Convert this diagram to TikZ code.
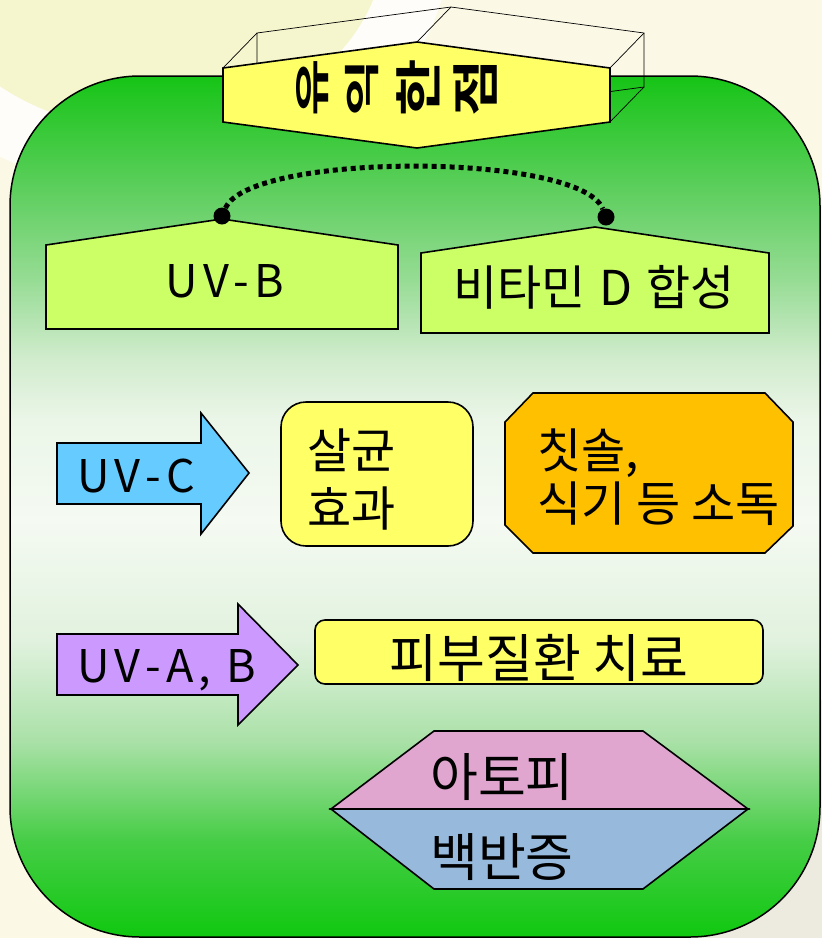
\documentclass[tikz,border=0pt]{standalone}
\usepackage{fontspec}
\setmainfont{Noto Sans CJK KR}
\newfontfamily\uvfont[LetterSpace=12]{Noto Sans CJK KR}
\newfontfamily\titlefont{Noto Sans CJK KR Bold}
\definecolor{bgcream}{RGB}{251,249,230}
\definecolor{bgyellow}{RGB}{245,245,206}
\definecolor{bggray}{RGB}{237,235,224}
\definecolor{gs0}{RGB}{16,200,16}
\definecolor{gs1}{RGB}{70,205,70}
\definecolor{gs2}{RGB}{170,225,168}
\definecolor{gs3}{RGB}{225,242,222}
\definecolor{gs4}{RGB}{245,250,242}
\definecolor{gs5}{RGB}{235,246,232}
\definecolor{gs6}{RGB}{210,236,206}
\definecolor{gs7}{RGB}{150,220,148}
\definecolor{gs8}{RGB}{100,208,100}
\definecolor{gs9}{RGB}{22,196,22}
\definecolor{hexyellow}{RGB}{255,255,102}
\definecolor{limegreen}{RGB}{204,255,102}
\definecolor{skyblue}{RGB}{102,204,255}
\definecolor{goldorange}{RGB}{255,192,0}
\definecolor{lilac}{RGB}{204,153,255}
\definecolor{mauve}{RGB}{225,166,208}
\definecolor{paleblue}{RGB}{150,185,220}
\pgfdeclareverticalshading{greenbox}{100bp}{color(0bp)=(gs0); color(25bp)=(gs0); color(30.6bp)=(gs1); color(36.4bp)=(gs2); color(42.2bp)=(gs3); color(49.2bp)=(gs4); color(55bp)=(gs5); color(58.5bp)=(gs6); color(63.2bp)=(gs7); color(67.8bp)=(gs8); color(75bp)=(gs9); color(100bp)=(gs9)}
\begin{document}
\begin{tikzpicture}[x=1pt,y=-1pt,line join=miter,
  shapeline/.style={draw=black,line width=1.6pt},
  wire/.style={draw=black,line width=0.7pt},
  txt/.style={inner sep=0pt,text=black},
  kr/.style={txt,font=\fontsize{48}{56}\selectfont},
  krbig/.style={txt,font=\fontsize{52}{60}\selectfont},
  uv/.style={txt,font=\uvfont\fontsize{45}{54}\selectfont},
  glyph/.style={inner sep=0pt,rotate=90,font=\titlefont\fontsize{50}{50}\selectfont},
  dotnode/.style={circle,fill=black,inner sep=0pt,minimum size=17pt}]
\useasboundingbox (0,0) rectangle (822,938);
% background
\begin{scope}
\clip (0,0) rectangle (822,938);
\fill[bgcream] (0,0) rectangle (822,938);
\fill[white,opacity=0.8] (150,-60) ellipse [x radius=300, y radius=250];
\fill[bgyellow] (150,-60) ellipse [x radius=235, y radius=190];
\fill[bggray] (650,700) rectangle (822,938);
\end{scope}
% big green rounded box
\shadedraw[shading=greenbox,draw=black,line width=1.5pt,rounded corners=130pt] (10,76) rectangle (820,937);
% 3D wireframe of the title hexagon
\draw[wire] (257,33) -- (451,7) -- (644,33) -- (644,87) -- (451,113) -- (257,87) -- cycle;
\draw[wire] (223,68) -- (257,33);
\draw[wire] (417,42) -- (451,7);
\draw[wire] (610,68) -- (644,33);
\draw[wire] (610,122) -- (644,87);
\draw[wire] (223,122) -- (257,87);
% title hexagon
\draw[shapeline,fill=hexyellow] (223,68) -- (417,42) -- (610,68) -- (610,122) -- (417,148) -- (223,122) -- cycle;
\node[glyph] (g1) at (312.5,87.5) {\scalebox{1.25}[0.72]{유}};
\node[glyph] (g2) at (362.5,87.5) {\scalebox{1.25}[0.72]{익}};
\node[glyph] (g3) at (418.5,87.5) {\scalebox{1.25}[0.95]{한}};
\node[glyph] (g4) at (475,87.5) {\scalebox{1.25}[0.95]{점}};
% pentagons
\draw[shapeline,fill=limegreen] (46,245) -- (222,219) -- (398,245) -- (398,329) -- (46,329) -- cycle;
\draw[shapeline,fill=limegreen] (421,253) -- (595,227) -- (769,253) -- (769,333) -- (421,333) -- cycle;
\node[uv,anchor=base] (uvb) at (225,297) {UV-B};
\node[kr,anchor=base] (vitd) at (594,305) {\spaceskip=14pt 비타민 D 합성};
% dots and dotted arc
\node[dotnode] (d1) at (222,216) {};
\node[dotnode] (d2) at (606,217) {};
\draw[line width=5pt,dash pattern=on 5pt off 4pt] (d1) .. controls (250,152) and (580,152) .. (d2);
% UV-C arrow
\draw[shapeline,fill=skyblue] (57,443) -- (201,443) -- (201,413) -- (249,473) -- (201,534) -- (201,504) -- (57,504) -- cycle;
\node[uv,anchor=base west] (uvc) at (77,492) {UV-C};
% sterilisation box
\draw[shapeline,fill=hexyellow,rounded corners=25pt] (281,402) rectangle (473,546);
\node[kr,anchor=base west] (sal1) at (307,468) {살균};
\node[kr,anchor=base west] (sal2) at (307,526) {효과};
% octagon
\draw[shapeline,fill=goldorange] (533,393) -- (765,393) -- (793,422) -- (793,526) -- (765,553) -- (533,553) -- (505,525) -- (505,422) -- cycle;
\node[kr,anchor=base west] (chi1) at (537,468) {칫솔,};
\node[kr,anchor=base west] (chi2) at (537,521) {식기 등 소독};
% UV-A,B arrow
\draw[shapeline,fill=lilac] (57,634) -- (238,634) -- (238,604) -- (298,665) -- (238,725) -- (238,695) -- (57,695) -- cycle;
\node[uv,anchor=base west] (uvab) at (77,682) {UV-A, B};
% skin disease box
\draw[shapeline,fill=hexyellow,rounded corners=10pt] (315,620) rectangle (763,684);
\node[krbig,anchor=base] (pibu) at (539,677) {피부질환 치료};
% bottom split hexagon
\draw[shapeline,fill=mauve] (434,731) -- (643,731) -- (748,809) -- (331,809) -- cycle;
\draw[shapeline,fill=paleblue] (331,809) -- (748,809) -- (643,889) -- (434,889) -- cycle;
\node[krbig,anchor=base west] (ato) at (430,796) {아토피};
\node[krbig,anchor=base west] (baek) at (430,876) {백반증};
\end{tikzpicture}
\end{document}
